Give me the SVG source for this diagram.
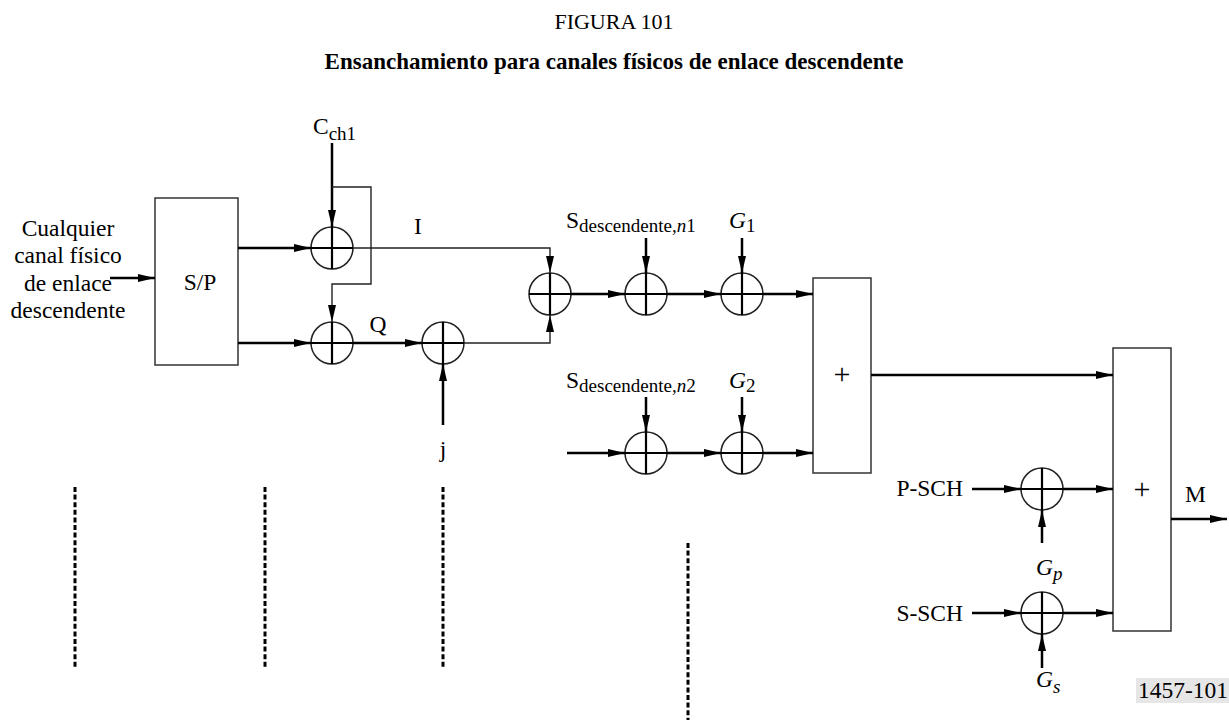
<svg xmlns="http://www.w3.org/2000/svg" width="1229" height="721" viewBox="0 0 1229 721">
<defs>
<marker id="ah" viewBox="0 0 17 8" refX="17" refY="4" markerWidth="17" markerHeight="8" markerUnits="userSpaceOnUse" orient="auto">
<path d="M0,0 L17,4 L0,8 z" fill="#000"/>
</marker>
<style>
text{font-family:"Liberation Serif","Times New Roman",serif;font-size:23.5px;fill:#000}
.ttl{font-size:22px}
.b{font-weight:bold;font-size:23px}
.sub{font-size:19px}
.it{font-style:italic}
.plus{font-size:30px}
.box{fill:#fff;stroke:#333;stroke-width:1.5}
.c{fill:none;stroke:#222;stroke-width:1.5}
.x{stroke:#000;stroke-width:2.2}
.th{fill:none;stroke:#000;stroke-width:2.5}
.tn{fill:none;stroke:#222;stroke-width:1.4}
.a{marker-end:url(#ah)}
.d{stroke:#000;stroke-width:3;stroke-dasharray:5 2.6}
</style>
</defs>
<rect width="1229" height="721" fill="#fff"/>
<g id="title">
<text class="ttl" x="614" y="29" text-anchor="middle">FIGURA 101</text>
<text x="614" y="69" text-anchor="middle" class="b">Ensanchamiento para canales físicos de enlace descendente</text>
</g>
<g id="input-label">
<text x="68" y="236" text-anchor="middle">Cualquier</text>
<text x="68" y="263" text-anchor="middle">canal físico</text>
<text x="68" y="291" text-anchor="middle">de enlace</text>
<text x="68" y="318" text-anchor="middle">descendente</text>
</g>
<g id="sp"><rect class="box" x="155" y="198" width="83" height="167"/><text x="200" y="290" text-anchor="middle">S/P</text></g>
<g id="box1"><rect class="box" x="813" y="278" width="58" height="195"/><text class="plus" x="842" y="384" text-anchor="middle">+</text></g>
<g id="box2"><rect class="box" x="1113" y="348" width="58" height="283"/><text class="plus" x="1142" y="499" text-anchor="middle">+</text></g>
<g id="x1"><circle class="c" cx="332" cy="248" r="21"/><path class="x" d="M311,248H353M332,227V269"/></g>
<g id="x2"><circle class="c" cx="332" cy="343" r="21"/><path class="x" d="M311,343H353M332,322V364"/></g>
<g id="xj"><circle class="c" cx="443" cy="343" r="21"/><path class="x" d="M422,343H464M443,322V364"/></g>
<g id="xc"><circle class="c" cx="550" cy="294" r="21"/><path class="x" d="M529,294H571M550,273V315"/></g>
<g id="xs1"><circle class="c" cx="646" cy="294" r="21"/><path class="x" d="M625,294H667M646,273V315"/></g>
<g id="xg1"><circle class="c" cx="742" cy="294" r="21"/><path class="x" d="M721,294H763M742,273V315"/></g>
<g id="xs2"><circle class="c" cx="646" cy="453" r="21"/><path class="x" d="M625,453H667M646,432V474"/></g>
<g id="xg2"><circle class="c" cx="742" cy="453" r="21"/><path class="x" d="M721,453H763M742,432V474"/></g>
<g id="xp"><circle class="c" cx="1042" cy="489" r="21"/><path class="x" d="M1021,489H1063M1042,468V510"/></g>
<g id="xss"><circle class="c" cx="1042" cy="613" r="21"/><path class="x" d="M1021,613H1063M1042,592V634"/></g>
<g id="labels">
<text x="313" y="134">C<tspan class="sub" dy="6">ch1</tspan></text>
<text x="418" y="234" text-anchor="middle">I</text>
<text x="378" y="332" text-anchor="middle">Q</text>
<text x="443" y="457" text-anchor="middle">j</text>
<text x="566" y="228">S<tspan class="sub" dy="4">descendente,<tspan class="it">n</tspan>1</tspan></text>
<text x="729" y="228"><tspan class="it">G</tspan><tspan class="sub" dy="4">1</tspan></text>
<text x="566" y="388">S<tspan class="sub" dy="4">descendente,<tspan class="it">n</tspan>2</tspan></text>
<text x="729" y="388"><tspan class="it">G</tspan><tspan class="sub" dy="4">2</tspan></text>
<text x="963" y="496" text-anchor="end">P-SCH</text>
<text x="963" y="621" text-anchor="end">S-SCH</text>
<text x="1036" y="575"><tspan class="it">G</tspan><tspan class="sub it" dy="5">p</tspan></text>
<text x="1036" y="687"><tspan class="it">G</tspan><tspan class="sub it" dy="6">s</tspan></text>
<text x="1185" y="502">M</text>
</g>
<g id="connectors">
<path class="th a" d="M110,278H155"/>
<path class="th a" d="M238,248H311"/>
<path class="th a" d="M238,343H311"/>
<path class="th a" d="M332,143V227"/>
<path class="tn a" d="M332,187H371V284H332V322"/>
<path class="tn a" d="M353,248H550V273"/>
<path class="th a" d="M353,343H422"/>
<path class="th a" d="M443,425V364"/>
<path class="tn a" d="M464,343H550V315"/>
<path class="th a" d="M571,294H625"/>
<path class="th a" d="M667,294H721"/>
<path class="th a" d="M763,294H813"/>
<path class="th a" d="M646,238V273"/>
<path class="th a" d="M742,238V273"/>
<path class="th a" d="M567,453H625"/>
<path class="th a" d="M667,453H721"/>
<path class="th a" d="M763,453H813"/>
<path class="th a" d="M646,397V432"/>
<path class="th a" d="M742,397V432"/>
<path class="th a" d="M871,375H1113"/>
<path class="th a" d="M972,489H1021"/>
<path class="th a" d="M1063,489H1113"/>
<path class="th a" d="M1042,543V510"/>
<path class="th a" d="M972,613H1021"/>
<path class="th a" d="M1063,613H1113"/>
<path class="th a" d="M1042,668V634"/>
<path class="th a" d="M1171,519H1227"/>
</g>
<g id="dashed">
<path class="d" d="M75,487V667"/>
<path class="d" d="M265,487V667"/>
<path class="d" d="M443,487V667"/>
<path class="d" d="M688,543V720"/>
</g>
<g id="fig-number"><rect x="1136" y="678" width="93" height="25" fill="#e6e6e6"/><text x="1138" y="698">1457-101</text></g>
</svg>
